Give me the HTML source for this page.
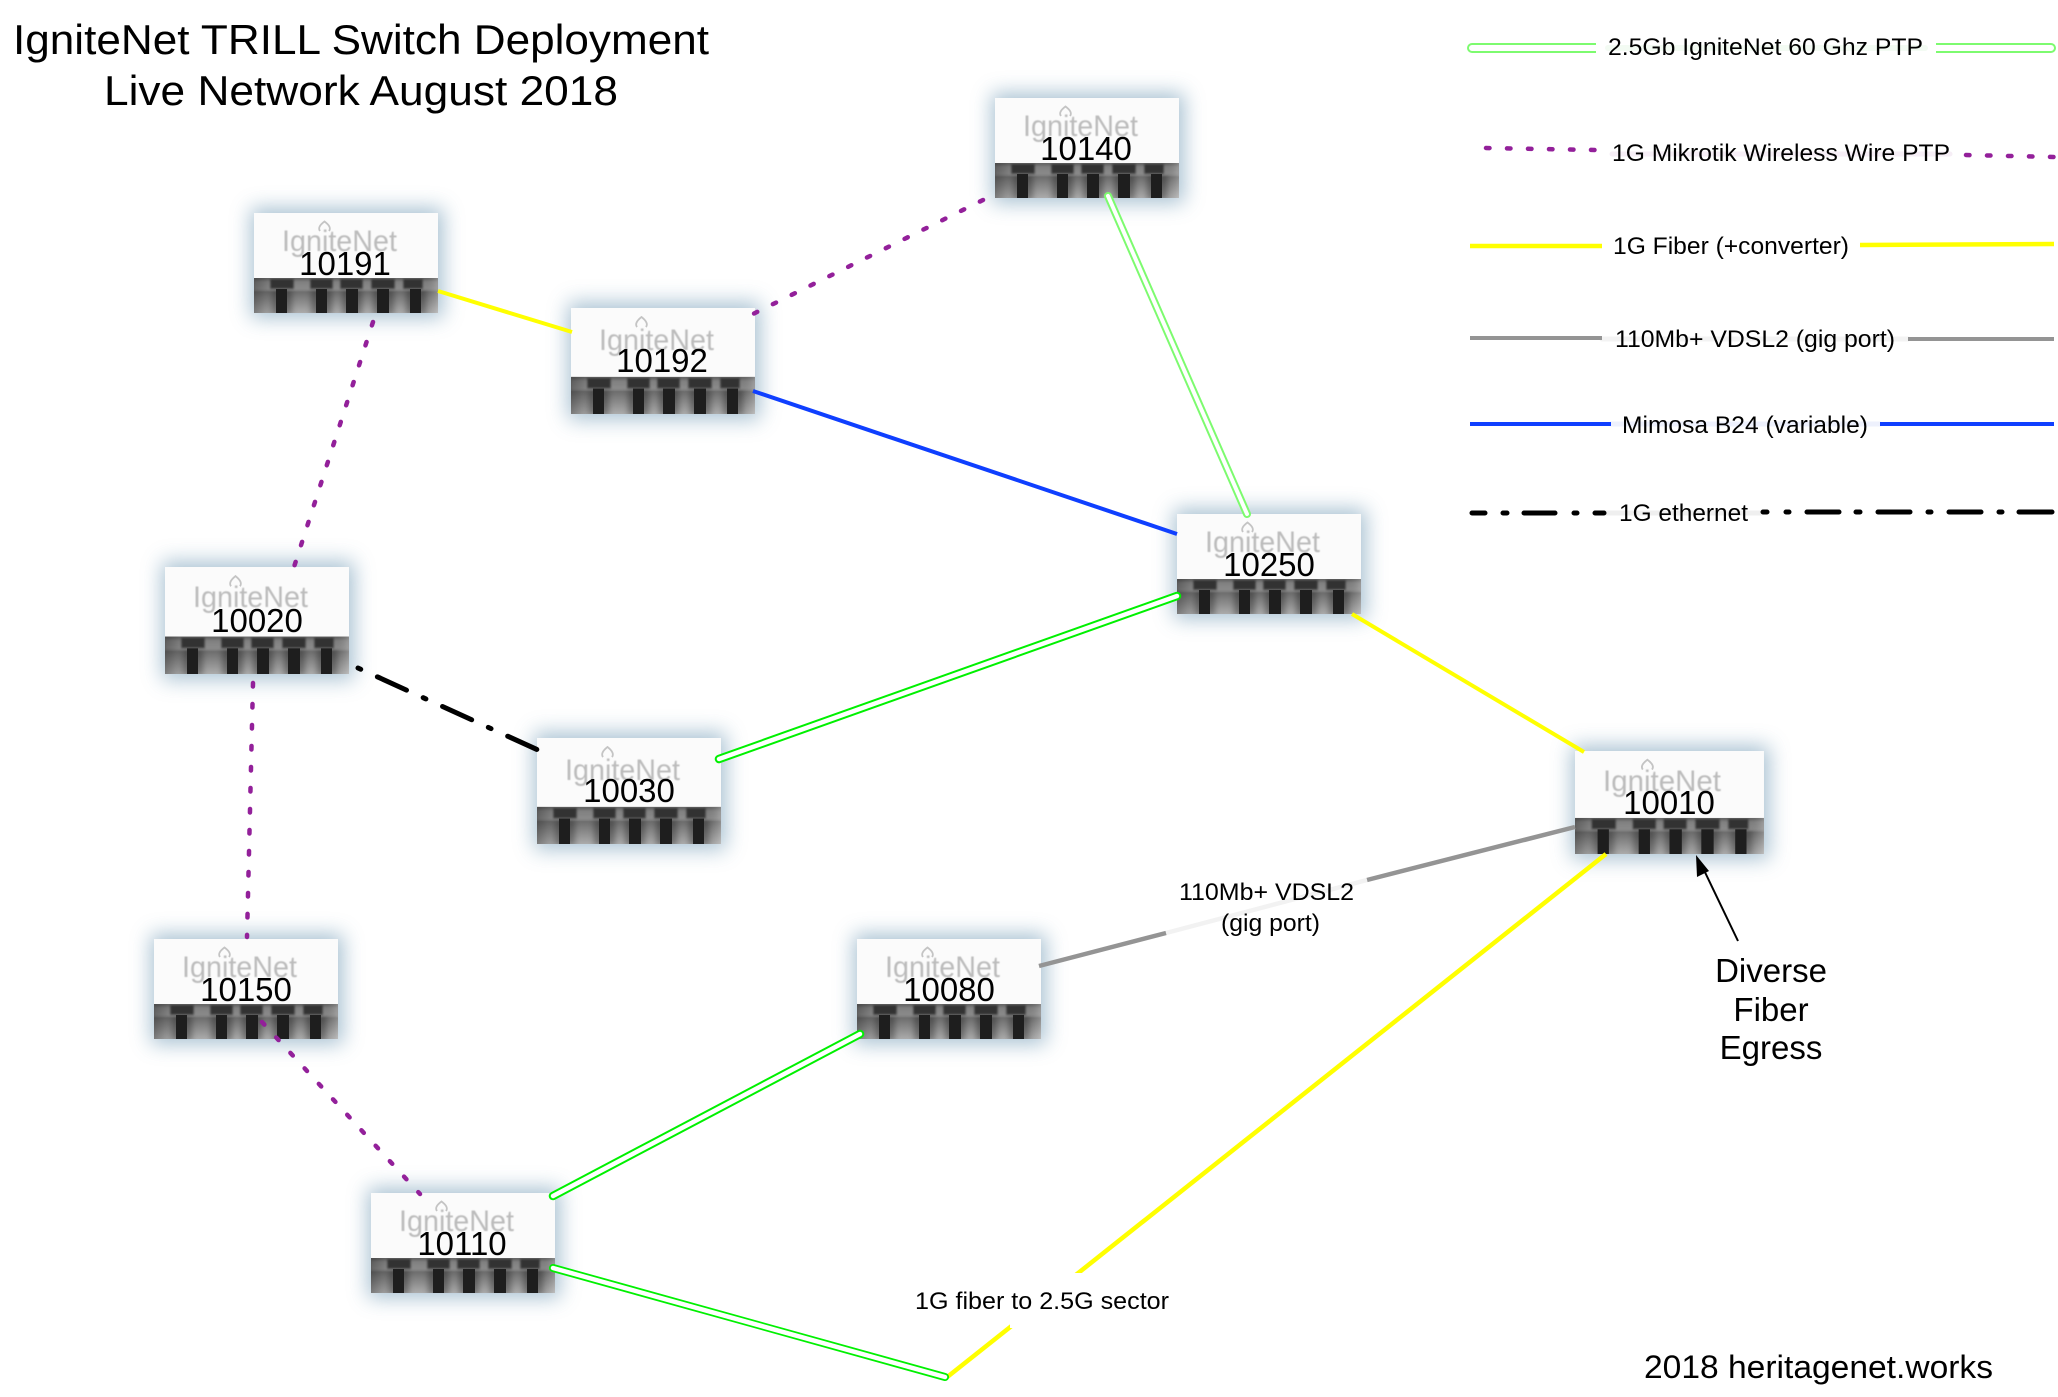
<!DOCTYPE html>
<html><head><meta charset="utf-8"><style>
html,body{margin:0;padding:0;background:#fff;width:2058px;height:1397px;overflow:hidden}
svg{display:block;font-family:"Liberation Sans",sans-serif}
.lg{font-size:24px;fill:#000}
.nl{font-size:33px;fill:#000;text-anchor:middle}
.lo{font-size:30px;fill:#bcbcbc;filter:url(#b1)}
.big{font-size:33px;fill:#000;text-anchor:middle}
</style></head><body>
<svg width="2058" height="1397" viewBox="0 0 2058 1397" xmlns="http://www.w3.org/2000/svg">
<defs>
<filter id="sh" x="-30%" y="-50%" width="160%" height="200%"><feGaussianBlur stdDeviation="10"/></filter>
<filter id="b1" x="-10%" y="-20%" width="120%" height="140%"><feGaussianBlur stdDeviation="0.6"/></filter>
<filter id="b2" x="-5%" y="-20%" width="110%" height="140%"><feGaussianBlur stdDeviation="1"/></filter>
<filter id="b3" x="-30%" y="-30%" width="160%" height="160%"><feGaussianBlur stdDeviation="3"/></filter>
<linearGradient id="gv" x1="0" y1="0" x2="0" y2="1"><stop offset="0" stop-color="#747474"/><stop offset=".36" stop-color="#7a7a7a"/><stop offset=".4" stop-color="#6e6e6e"/><stop offset="1" stop-color="#ababab"/></linearGradient>
<linearGradient id="gs" x1="0" y1="0" x2="0" y2="1"><stop offset="0" stop-color="#555"/><stop offset=".3" stop-color="#808080"/><stop offset="1" stop-color="#8c8c8c"/></linearGradient>
<linearGradient id="gh" x1="0" y1="0" x2="1" y2="0"><stop offset="0" stop-color="#000" stop-opacity=".28"/><stop offset=".1" stop-color="#000" stop-opacity="0"/><stop offset=".9" stop-color="#000" stop-opacity="0"/><stop offset="1" stop-color="#fff" stop-opacity=".22"/></linearGradient>
<clipPath id="cp"><rect x="0" y="65" width="184" height="35"/></clipPath>
<g id="n">
<rect x="-3" y="-5" width="192" height="110" fill="#8aacc2" opacity=".75" filter="url(#sh)"/>
<rect x="0" y="0" width="184" height="100" fill="#fbfbfb"/>
<rect x="0" y="65" width="184" height="35" fill="url(#gv)"/>
<g clip-path="url(#cp)">
<g filter="url(#b3)" fill="#000" opacity=".3">
<rect x="17" y="76" width="21" height="26"/><rect x="57" y="76" width="21" height="26"/><rect x="88" y="76" width="20" height="26"/><rect x="119" y="76" width="21" height="26"/><rect x="152" y="76" width="20" height="26"/>
</g>
<g filter="url(#b2)">
<rect x="0" y="65" width="184" height="12" fill="url(#gs)"/>
<rect x="16" y="66" width="24" height="10" fill="#333"/><rect x="56" y="66" width="23" height="10" fill="#333"/><rect x="86" y="66" width="23" height="10" fill="#333"/><rect x="117" y="66" width="24" height="10" fill="#333"/><rect x="149" y="66" width="20" height="10" fill="#333"/>
</g></g>
<rect x="0" y="65" width="184" height="35" fill="url(#gh)"/>
<rect x="22" y="76" width="11" height="24" fill="#1e1e1e"/><rect x="62" y="76" width="11" height="24" fill="#1e1e1e"/><rect x="92" y="76" width="12" height="24" fill="#1e1e1e"/><rect x="123" y="76" width="12" height="24" fill="#1e1e1e"/><rect x="156" y="76" width="11" height="24" fill="#1e1e1e"/>
<path d="M66 18 Q63 14 70.5 8.500 Q78 14 75 18" fill="none" stroke="#c4c4c4" stroke-width="1.8"/>
</g>
</defs>
<rect width="2058" height="1397" fill="#fff"/>

<!-- nodes -->
<use href="#n" transform="translate(254,213)"/>
<use href="#n" transform="translate(571,308) scale(1,1.06)"/>
<use href="#n" transform="translate(995,98)"/>
<use href="#n" transform="translate(165,567) scale(1,1.07)"/>
<use href="#n" transform="translate(537,738) scale(1,1.06)"/>
<use href="#n" transform="translate(1177,514)"/>
<use href="#n" transform="translate(1575,751) scale(1.027,1.03)"/>
<use href="#n" transform="translate(857,939)"/>
<use href="#n" transform="translate(154,939)"/>
<use href="#n" transform="translate(371,1193)"/>

<g class="lo">
<text x="282" y="251" textLength="115" lengthAdjust="spacingAndGlyphs">IgniteNet</text>
<text x="599" y="350" textLength="115" lengthAdjust="spacingAndGlyphs">IgniteNet</text>
<text x="1023" y="136" textLength="115" lengthAdjust="spacingAndGlyphs">IgniteNet</text>
<text x="193" y="607" textLength="115" lengthAdjust="spacingAndGlyphs">IgniteNet</text>
<text x="565" y="780" textLength="115" lengthAdjust="spacingAndGlyphs">IgniteNet</text>
<text x="1205" y="552" textLength="115" lengthAdjust="spacingAndGlyphs">IgniteNet</text>
<text x="1603" y="791" textLength="118" lengthAdjust="spacingAndGlyphs">IgniteNet</text>
<text x="885" y="977" textLength="115" lengthAdjust="spacingAndGlyphs">IgniteNet</text>
<text x="182" y="977" textLength="115" lengthAdjust="spacingAndGlyphs">IgniteNet</text>
<text x="399" y="1231" textLength="115" lengthAdjust="spacingAndGlyphs">IgniteNet</text>
</g>

<!-- connectors -->
<g fill="none" stroke-linecap="round">
<path d="M438 291L572 332" stroke="#ffff00" stroke-width="4" stroke-linecap="butt"/>
<path d="M1352 614L1584 752" stroke="#ffff00" stroke-width="4" stroke-linecap="butt"/>
<path d="M1606 854L946 1378" stroke="#ffff00" stroke-width="4.500" stroke-linecap="butt"/>
<path d="M753 391L1177 534" stroke="#0f3fff" stroke-width="4" stroke-linecap="butt"/>
<path d="M1575 827L1367 880" stroke="#949494" stroke-width="4.500" stroke-linecap="butt"/>
<path d="M1367 880L1166 933" stroke="#f2f2f2" stroke-width="4.500" stroke-linecap="butt"/>
<path d="M1166 933L1039 966" stroke="#949494" stroke-width="4.500" stroke-linecap="butt"/>
<g stroke="#93209a" stroke-width="4.500" stroke-dasharray="3.500 17.500">
<path d="M983 200L753 314"/>
<path d="M373 322L294 567"/>
<path d="M253 683L247 937"/>
<path d="M262 1022L420 1194"/>
</g>
<path d="M358 668L538 750" stroke="#000" stroke-width="5" stroke-dasharray="3 18.300 32 18.300"/>

<path d="M1108 196L1247 514" stroke="#7dfb6f" stroke-width="8"/>
<path d="M1108 196L1247 514" stroke="#fff" stroke-width="4"/>
<path d="M719 759L1177 596" stroke="#00f000" stroke-width="8.500"/>
<path d="M719 759L1177 596" stroke="#fff" stroke-width="4.500"/>
<path d="M553 1196L860 1034" stroke="#00f000" stroke-width="8.500"/>
<path d="M553 1196L860 1034" stroke="#fff" stroke-width="4.500"/>
<path d="M553 1268L945 1377" stroke="#00f000" stroke-width="8"/>
<path d="M553 1268L945 1377" stroke="#fff" stroke-width="4.500"/>
</g>
<rect x="1010" y="1273" width="80" height="55" fill="#fff"/>

<!-- arrow -->
<path d="M1738 941L1702 866" stroke="#000" stroke-width="2" fill="none"/>
<path d="M1696 855L1697 877L1709 871Z" fill="#000"/>

<!-- node labels -->
<text class="nl" x="345" y="275">10191</text>
<text class="nl" x="662" y="372">10192</text>
<text class="nl" x="1086" y="160">10140</text>
<text class="nl" x="257" y="632">10020</text>
<text class="nl" x="629" y="802">10030</text>
<text class="nl" x="1269" y="576">10250</text>
<text class="nl" x="1669" y="814">10010</text>
<text class="nl" x="949" y="1001">10080</text>
<text class="nl" x="246" y="1001">10150</text>
<text class="nl" x="462" y="1255">10110</text>

<!-- title -->
<text x="13" y="54" font-size="42" textLength="696" lengthAdjust="spacingAndGlyphs">IgniteNet TRILL Switch Deployment</text>
<text x="104" y="105" font-size="42" textLength="514" lengthAdjust="spacingAndGlyphs">Live Network August 2018</text>

<!-- legend -->
<g fill="none" stroke-linecap="round">
<path d="M1608 48H1925" stroke="#f3fbf3" stroke-width="6"/>
<path d="M1612 154H1950" stroke="#f6eef6" stroke-width="5"/>
<path d="M1602 339H1908" stroke="#f3f3f3" stroke-width="5"/>
<path d="M1611 424H1880" stroke="#eef1fd" stroke-width="5"/>
<path d="M1606 513H1761" stroke="#efefef" stroke-width="5"/>
<path d="M1596 44H1472A4 4 0 0 0 1472 52H1596" stroke="#7dfb6f" stroke-width="2" stroke-linecap="butt"/>
<path d="M1936 44H2051A4 4 0 0 1 2051 52H1936" stroke="#7dfb6f" stroke-width="2" stroke-linecap="butt"/>
<path d="M1486 148L1597 150" stroke="#93209a" stroke-width="4.500" stroke-dasharray="3.500 17.500"/>
<path d="M1966 155L2055 157" stroke="#93209a" stroke-width="4.500" stroke-dasharray="3.500 17.500"/>
<path d="M1470 246H1602" stroke="#ffff00" stroke-width="4.500" stroke-linecap="butt"/>
<path d="M1860 245L2054 244" stroke="#ffff00" stroke-width="4.500" stroke-linecap="butt"/>
<path d="M1470 338H1602" stroke="#949494" stroke-width="4" stroke-linecap="butt"/>
<path d="M1908 339H2054" stroke="#949494" stroke-width="4" stroke-linecap="butt"/>
<path d="M1470 424H1611" stroke="#0f3fff" stroke-width="4" stroke-linecap="butt"/>
<path d="M1880 424H2054" stroke="#0f3fff" stroke-width="4" stroke-linecap="butt"/>
<path d="M1472 513H1485M1503 513H1507M1524 513H1555M1574 513H1577M1595 513H1604" stroke="#000" stroke-width="5"/>
<path d="M1763 512H1767M1786 512H1789M1807 512H1839M1856 512H1860M1878 512H1910M1928 512H1931M1949 512H1981M1999 512H2002M2019 512H2052" stroke="#000" stroke-width="5"/>
</g>
<text class="lg" x="1608" y="55" textLength="315" lengthAdjust="spacingAndGlyphs">2.5Gb IgniteNet 60 Ghz PTP</text>
<text class="lg" x="1612" y="161" textLength="338" lengthAdjust="spacingAndGlyphs">1G Mikrotik Wireless Wire PTP</text>
<text class="lg" x="1613" y="254" textLength="236" lengthAdjust="spacingAndGlyphs">1G Fiber (+converter)</text>
<text class="lg" x="1615" y="347" textLength="280" lengthAdjust="spacingAndGlyphs">110Mb+ VDSL2 (gig port)</text>
<text class="lg" x="1622" y="433" textLength="246" lengthAdjust="spacingAndGlyphs">Mimosa B24 (variable)</text>
<text class="lg" x="1619" y="521" textLength="129" lengthAdjust="spacingAndGlyphs">1G ethernet</text>

<!-- edge labels -->
<text class="lg" x="1179" y="900" textLength="175" lengthAdjust="spacingAndGlyphs">110Mb+ VDSL2</text>
<text class="lg" x="1221" y="931" textLength="99" lengthAdjust="spacingAndGlyphs">(gig port)</text>
<text class="lg" x="915" y="1309" textLength="254" lengthAdjust="spacingAndGlyphs">1G fiber to 2.5G sector</text>

<text class="big" x="1771" y="982">Diverse</text>
<text class="big" x="1771" y="1021">Fiber</text>
<text class="big" x="1771" y="1059">Egress</text>
<text x="1644" y="1378" font-size="32" textLength="349" lengthAdjust="spacingAndGlyphs">2018 heritagenet.works</text>
</svg>
</body></html>
